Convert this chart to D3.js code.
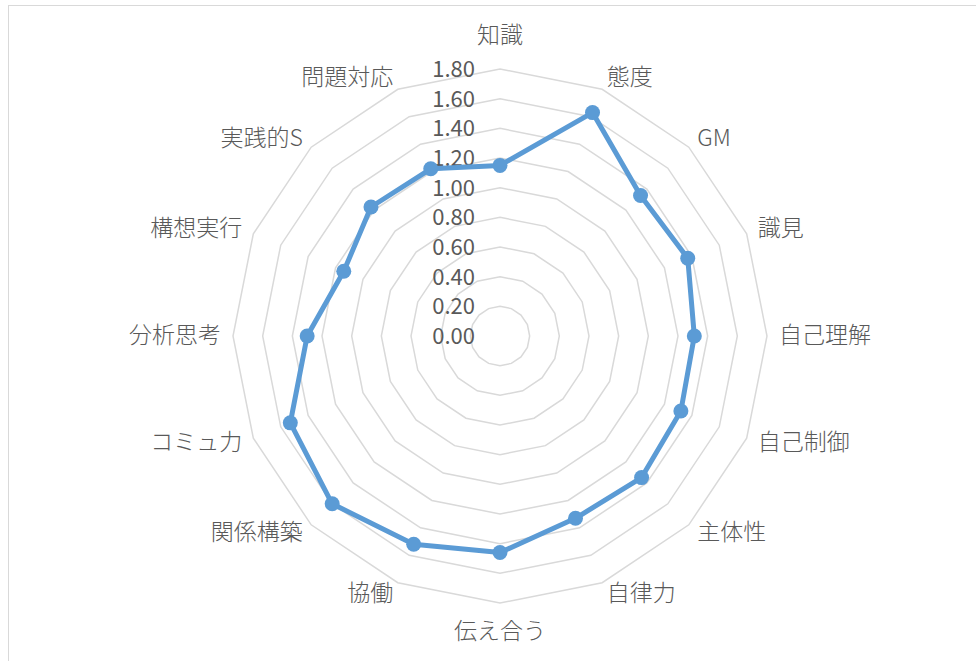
<!DOCTYPE html>
<html>
<head>
<meta charset="utf-8">
<script src="https://cdn.jsdelivr.net/npm/d3@7"></script>
<style>
  html, body { margin: 0; padding: 0; background: #fff; }
  svg { display: block; }
</style>
</head>
<body>
<svg id="chart" width="976" height="661"></svg>
<script>
const categories = ["知識", "態度", "GM", "識見", "自己理解", "自己制御", "主体性", "自律力",
  "伝え合う", "協働", "関係構築", "コミュ力", "分析思考", "構想実行", "実践的S", "問題対応"];
const values = [1.15, 1.63, 1.34, 1.37, 1.31, 1.32, 1.35, 1.33,
  1.46, 1.52, 1.60, 1.53, 1.30, 1.14, 1.23, 1.22];
const tickValues = [0, 0.2, 0.4, 0.6, 0.8, 1.0, 1.2, 1.4, 1.6, 1.8];
const tickLabels = ["0.00", "0.20", "0.40", "0.60", "0.80", "1.00", "1.20", "1.40", "1.60", "1.80"];

const svg = d3.select("#chart");
const cx = 500, cy = 336, R = 267;
const font = "'Noto Sans CJK JP', 'Noto Sans', sans-serif";
const textColor = "#595959";

// chart frame
svg.append("rect").attr("x", 8.5).attr("y", 5.5).attr("width", 1000).attr("height", 700)
  .attr("fill", "none").attr("stroke", "#d9d9d9").attr("stroke-width", 1);

const r = d3.scaleLinear().domain([0, 1.8]).range([0, R]);
const n = categories.length;
const angle = d3.scaleLinear().domain([0, n]).range([0, 2 * Math.PI]);

const g = svg.append("g").attr("transform", `translate(${cx},${cy})`);

// grid polygons
const ring = d3.lineRadial().angle((d, i) => angle(i)).radius(d => r(d)).curve(d3.curveLinearClosed);
g.selectAll("path.grid").data(tickValues.filter(v => v > 0)).join("path")
  .attr("class", "grid")
  .attr("d", v => ring(categories.map(() => v)))
  .attr("fill", "none").attr("stroke", "#d9d9d9").attr("stroke-width", 1.5);

// tick labels
g.selectAll("text.tick").data(tickValues).join("text")
  .attr("class", "tick")
  .attr("x", -25).attr("y", v => -r(v) - 2)
  .attr("text-anchor", "end").attr("dominant-baseline", "central")
  .attr("font-family", font).attr("font-size", 22).attr("fill", textColor)
  .text((v, i) => tickLabels[i]);

// category labels
g.selectAll("text.cat").data(categories).join("text")
  .attr("class", "cat")
  .each(function (d, i) {
    const a = angle(i);
    const s = Math.sin(a), c = Math.cos(a);
    const rr = R + 12;
    let x = rr * s, y = -rr * c - 3;
    let anchor = "middle";
    if (s > 0.01) anchor = "start"; else if (s < -0.01) anchor = "end";
    if (Math.abs(s) < 0.01) { y += c > 0 ? -21 : 17; }
    d3.select(this).attr("x", x).attr("y", y)
      .attr("text-anchor", anchor).attr("dominant-baseline", "central");
  })
  .attr("font-family", font).attr("font-size", 23).attr("font-weight", 300).attr("fill", textColor)
  .text(d => d);

// data line
const line = d3.lineRadial().angle((d, i) => angle(i)).radius(d => r(d)).curve(d3.curveLinearClosed);
g.append("path").attr("d", line(values))
  .attr("fill", "none").attr("stroke", "#5b9bd5").attr("stroke-width", 5)
  .attr("stroke-linejoin", "round");

g.selectAll("circle.pt").data(values).join("circle")
  .attr("class", "pt")
  .attr("cx", (d, i) => r(d) * Math.sin(angle(i)))
  .attr("cy", (d, i) => -r(d) * Math.cos(angle(i)))
  .attr("r", 7.5).attr("fill", "#5b9bd5");
</script>
</body>
</html>
